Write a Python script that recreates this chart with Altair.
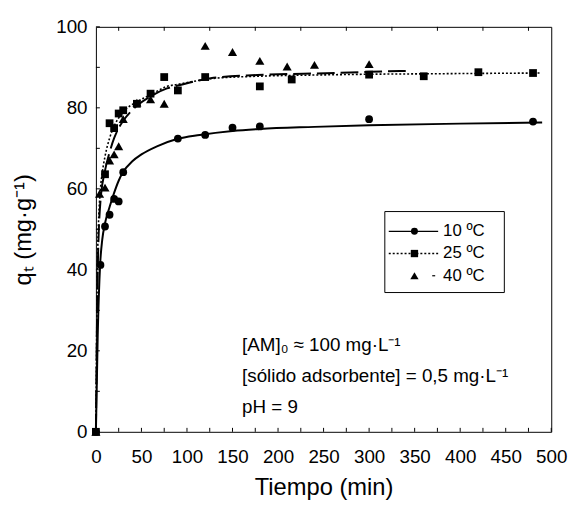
import altair as alt
import pandas as pd

FONT = "Liberation Sans"

# ---- experimental points ----
series = ["10 ºC", "25 ºC", "40 ºC"]
t10 = [0, 5, 10, 15, 20, 25, 30, 90, 120, 150, 180, 300, 480]
q10 = [0, 41.2, 50.7, 53.6, 57.5, 56.9, 64.1, 72.4, 73.3, 75.1, 75.4, 77.2, 76.6]
t25 = [0, 10, 15, 20, 25, 30, 45, 60, 75, 90, 120, 180, 215, 300, 360, 420, 480]
q25 = [0, 63.6, 76.2, 75.0, 78.6, 79.4, 81.0, 83.5, 87.6, 84.3, 87.6, 85.3, 87.0, 88.2, 87.8, 88.8, 88.6]
t40 = [0, 4, 10, 15, 20, 25, 30, 45, 60, 75, 120, 150, 180, 210, 240, 300]
q40 = [0, 58.8, 60.3, 67.0, 68.5, 70.5, 77.2, 81.3, 82.1, 81.0, 95.3, 93.8, 91.6, 90.2, 90.6, 90.8]

# ---- fitted curves ----
ct10 = [0, 2, 4.7, 7, 10, 15, 20, 25, 30, 40, 50, 67, 89, 114, 150, 180, 240, 300, 400, 490]
cq10 = [0, 24, 41.5, 47.5, 51.5, 55.5, 59, 62, 64.2, 66.8, 68.5, 70.5, 72.3, 73.3, 74.3, 74.8, 75.3, 75.7, 76.1, 76.4]
ct25 = [0, 2, 5, 7, 10, 15, 20, 25, 30, 45, 60, 78, 90, 114, 126, 177, 240, 300, 360, 420, 488]
cq25 = [0, 45, 60, 64, 68, 72.5, 75.5, 77.5, 79, 81.5, 83.2, 85.3, 85.8, 86.8, 87.2, 87.8, 88.1, 88.3, 88.4, 88.5, 88.6]
ct40 = [0, 2, 5, 10, 15, 20, 25, 30, 45, 60, 78, 90, 126, 177, 263, 300, 341]
cq40 = [0, 40, 57, 64.5, 69, 72.5, 75, 76.8, 80.5, 82.8, 84.8, 85.5, 87.3, 88.1, 88.6, 88.9, 89.1]

# ---- axis ticks ----
x_labels = [0, 50, 100, 150, 200, 250, 300, 350, 400, 450, 500]
x_ticks_bottom = list(range(0, 501, 25))
x_ticks_top = list(range(25, 500, 50))
y_labels = [0, 20, 40, 60, 80, 100]
y_ticks = list(range(0, 101, 10))

W, H = 461, 410
xs = alt.Scale(domain=[0, 500], nice=False, zero=False)
ys = alt.Scale(domain=[0, 100], nice=False, zero=False)

XAX = alt.Axis(
    values=x_labels, ticks=False, tickSize=0, grid=False, domain=False,
    labelPadding=16, labelFontSize=19, labelFont=FONT, labelColor="black",
    labelFlush=False, title="Tiempo (min)", titleFont=FONT, titleFontSize=24,
    titleFontWeight="normal", titleColor="black", titleY=63,
    titleBaseline="alphabetic")
YAX = alt.Axis(
    values=y_labels, ticks=False, tickSize=0, grid=False, domain=False,
    labelPadding=9, labelFontSize=19, labelFont=FONT, labelColor="black",
    labelFlush=False, title="qₜ (mg·g⁻¹)", titleFont=FONT, titleFontSize=24,
    titleFontWeight="normal", titleColor="black", titleX=-66, titleY=205,
    titleBaseline="alphabetic")

one = pd.DataFrame({"a": [0]})


def pts_layer(t, q, shape, size):
    df = pd.DataFrame({"t": t, "q": q})
    return alt.Chart(df).mark_point(shape=shape, size=size, filled=True, opacity=1,
                                    color="black").encode(
        x=alt.X("t:Q", scale=xs, axis=XAX), y=alt.Y("q:Q", scale=ys, axis=YAX))


def line_layer(t, q, dash, width):
    df = pd.DataFrame({"t": t, "q": q})
    kw = dict(color="black", strokeWidth=width, interpolate="monotone")
    if dash:
        kw["strokeDash"] = dash
    return alt.Chart(df).mark_line(**kw).encode(
        x=alt.X("t:Q", scale=xs, axis=XAX), y=alt.Y("q:Q", scale=ys, axis=YAX))


tick_b = alt.Chart(pd.DataFrame({"t": x_ticks_bottom})).mark_rule(color="black").encode(
    x=alt.X("t:Q", scale=xs, axis=XAX), y=alt.value(H), y2=alt.value(H - 4))
tick_t = alt.Chart(pd.DataFrame({"t": x_ticks_top})).mark_rule(color="black").encode(
    x=alt.X("t:Q", scale=xs, axis=XAX), y=alt.value(0), y2=alt.value(4))
tick_l = alt.Chart(pd.DataFrame({"q": y_ticks})).mark_rule(color="black").encode(
    y=alt.Y("q:Q", scale=ys, axis=YAX), x=alt.value(0), x2=alt.value(4))

layers = [line_layer(ct10, cq10, None, 2),
          line_layer(ct25, cq25, [2, 2], 1.6),
          line_layer(ct40, cq40, [18, 6], 2),
          tick_b, tick_t, tick_l,
          pts_layer(t10, q10, "circle", 62),
          pts_layer(t25, q25, "square", 62),
          pts_layer(t40, q40, "triangle-up", 85)]

# annotations
notes = ["[AM]₀ ≈ 100 mg·L⁻¹", "[sólido adsorbente] = 0,5 mg·L⁻¹", "pH = 9"]
note_y = [328, 359.5, 391]
for txt, yy in zip(notes, note_y):
    layers.append(alt.Chart(one).mark_text(align="left", baseline="alphabetic", fontSize=19,
                                           font=FONT, color="black", text=txt).encode(
        x=alt.value(148), y=alt.value(yy)))

# legend
layers.append(alt.Chart(one).mark_rect(fill="white", stroke="black", strokeWidth=1).encode(
    x=alt.value(292.5), x2=alt.value(413.5), y=alt.value(187), y2=alt.value(269)))
leg_y = [207, 229.5, 252]
leg_shape = ["circle", "square", "triangle-up"]
leg_size = [50, 55, 70]
leg_dash = [None, [2, 2], None]
for name, yy, shp, sz, dsh in zip(series, leg_y, leg_shape, leg_size, leg_dash):
    if shp != "triangle-up":
        kw = dict(color="black", strokeWidth=1.5 if dsh else 1.2)
        if dsh:
            kw["strokeDash"] = dsh
        layers.append(alt.Chart(one).mark_rule(**kw).encode(
            x=alt.value(296.5), x2=alt.value(346.5), y=alt.value(yy)))
    else:
        layers.append(alt.Chart(one).mark_rule(color="black", strokeWidth=1.2).encode(
            x=alt.value(340.5), x2=alt.value(343.5), y=alt.value(yy)))
    layers.append(alt.Chart(one).mark_point(shape=shp, size=sz, filled=True, opacity=1,
                                            color="black").encode(
        x=alt.value(322.5), y=alt.value(yy)))
    layers.append(alt.Chart(one).mark_text(align="left", baseline="middle", fontSize=17,
                                           font=FONT, color="black", text=name).encode(
        x=alt.value(351.5), y=alt.value(yy)))

chart = alt.layer(*layers).properties(
    width=W, height=H,
    autosize=alt.AutoSizeParams(type="none"),
    padding={"left": 89, "top": 16, "right": 20, "bottom": 70},
    background="white",
).configure_view(stroke="black", strokeWidth=1).configure_axis(
    titleFontWeight="normal", labelFontWeight="normal")

chart.save("out.html", embed_options={"renderer": "svg", "actions": False})
